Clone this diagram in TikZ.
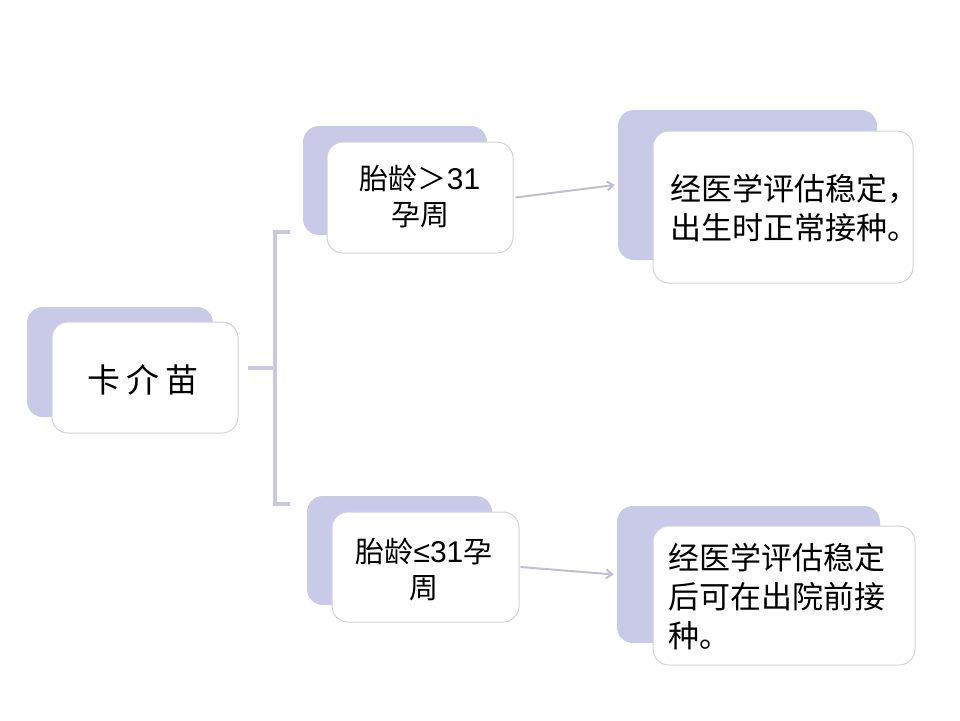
\documentclass[tikz,border=0pt]{standalone}
\usepackage{fontspec}
\newfontfamily\cjk{Noto Sans CJK SC}
\newfontfamily\lat{Liberation Sans}
\usetikzlibrary{arrows.meta}
\definecolor{shadowc}{RGB}{201,202,232}
\definecolor{linec}{RGB}{200,200,228}
\definecolor{arrowc}{RGB}{190,190,212}
\definecolor{borderc}{RGB}{210,210,218}
\tikzset{
  shadowbox/.style={draw=none, fill=shadowc, rounded corners=16pt, inner sep=0pt},
  frontbox/.style={draw=borderc, line width=1pt, fill=white, rounded corners=16pt, inner sep=0pt},
  txt/.style={font=\cjk, inner sep=0pt, text=black},
  bracketline/.style={draw=linec, line width=3.5pt},
  arrowline/.style={draw=arrowc, line width=2pt, -{Straight Barb[length=6pt,width=9pt]}},
}
\begin{document}
\begin{tikzpicture}[x=1pt,y=-1pt]
\useasboundingbox (0,0) rectangle (960,720);
\fill[white] (0,0) rectangle (960,720);
% root
\node[shadowbox, minimum width=186pt, minimum height=110pt] (rootS) at (120,362) {};
\node[frontbox, minimum width=186pt, minimum height=111pt] (root) at (145,377.5) {};
\node[txt, font=\cjk\fontsize{33}{40}\selectfont] (rootT) at (143,380) {卡\hspace{6pt}介\hspace{6pt}苗};
% top middle
\node[shadowbox, minimum width=184pt, minimum height=109pt] (tmS) at (395,180.5) {};
\node[frontbox, minimum width=186pt, minimum height=111pt] (tm) at (420,197.5) {};
\node[txt, align=center, font=\cjk\fontsize{29}{36}\selectfont] (tmT) at (420,197) {胎龄＞{\lat\fontsize{30}{36}\selectfont 31}\\孕周};
% top right
\node[shadowbox, minimum width=259pt, minimum height=150pt] (trS) at (747.5,185) {};
\node[frontbox, minimum width=260pt, minimum height=152pt] (tr) at (783,207) {};
\node[txt, align=left, anchor=west, font=\cjk\fontsize{31}{39}\selectfont] (trT) at (670,208) {经医学评估稳定，\\出生时正常接种。};
% bottom middle
\node[shadowbox, minimum width=185pt, minimum height=109pt] (bmS) at (399.5,550.5) {};
\node[frontbox, minimum width=187pt, minimum height=110pt] (bm) at (425.5,567) {};
\node[txt, align=center, font=\cjk\fontsize{29}{36}\selectfont] (bmT) at (424,570) {胎龄{\lat\fontsize{30}{36}\selectfont ≤31}孕\\周};
% bottom right
\node[shadowbox, minimum width=263pt, minimum height=137pt] (brS) at (748.5,574.5) {};
\node[frontbox, minimum width=262pt, minimum height=139pt] (br) at (784,595.5) {};
\node[txt, align=left, anchor=west, font=\cjk\fontsize{31}{39}\selectfont] (brT) at (668,597) {经医学评估稳定\\后可在出院前接\\种。};
% bracket
\coordinate (bj) at (275,368);
\coordinate (btop) at (290,232);
\coordinate (bbot) at (290,504);
\draw[bracketline] ([xshift=9pt]root.east |- bj) -- (bj);
\draw[bracketline] (btop) -- (btop -| bj) -- (bbot -| bj) -- (bbot);
% arrows
\draw[arrowline] ([xshift=2pt]tm.east) -- ([xshift=-3pt]trS.west);
\draw[arrowline] ([xshift=1pt]bm.east) -- ([xshift=-3pt]brS.west);
\end{tikzpicture}
\end{document}
